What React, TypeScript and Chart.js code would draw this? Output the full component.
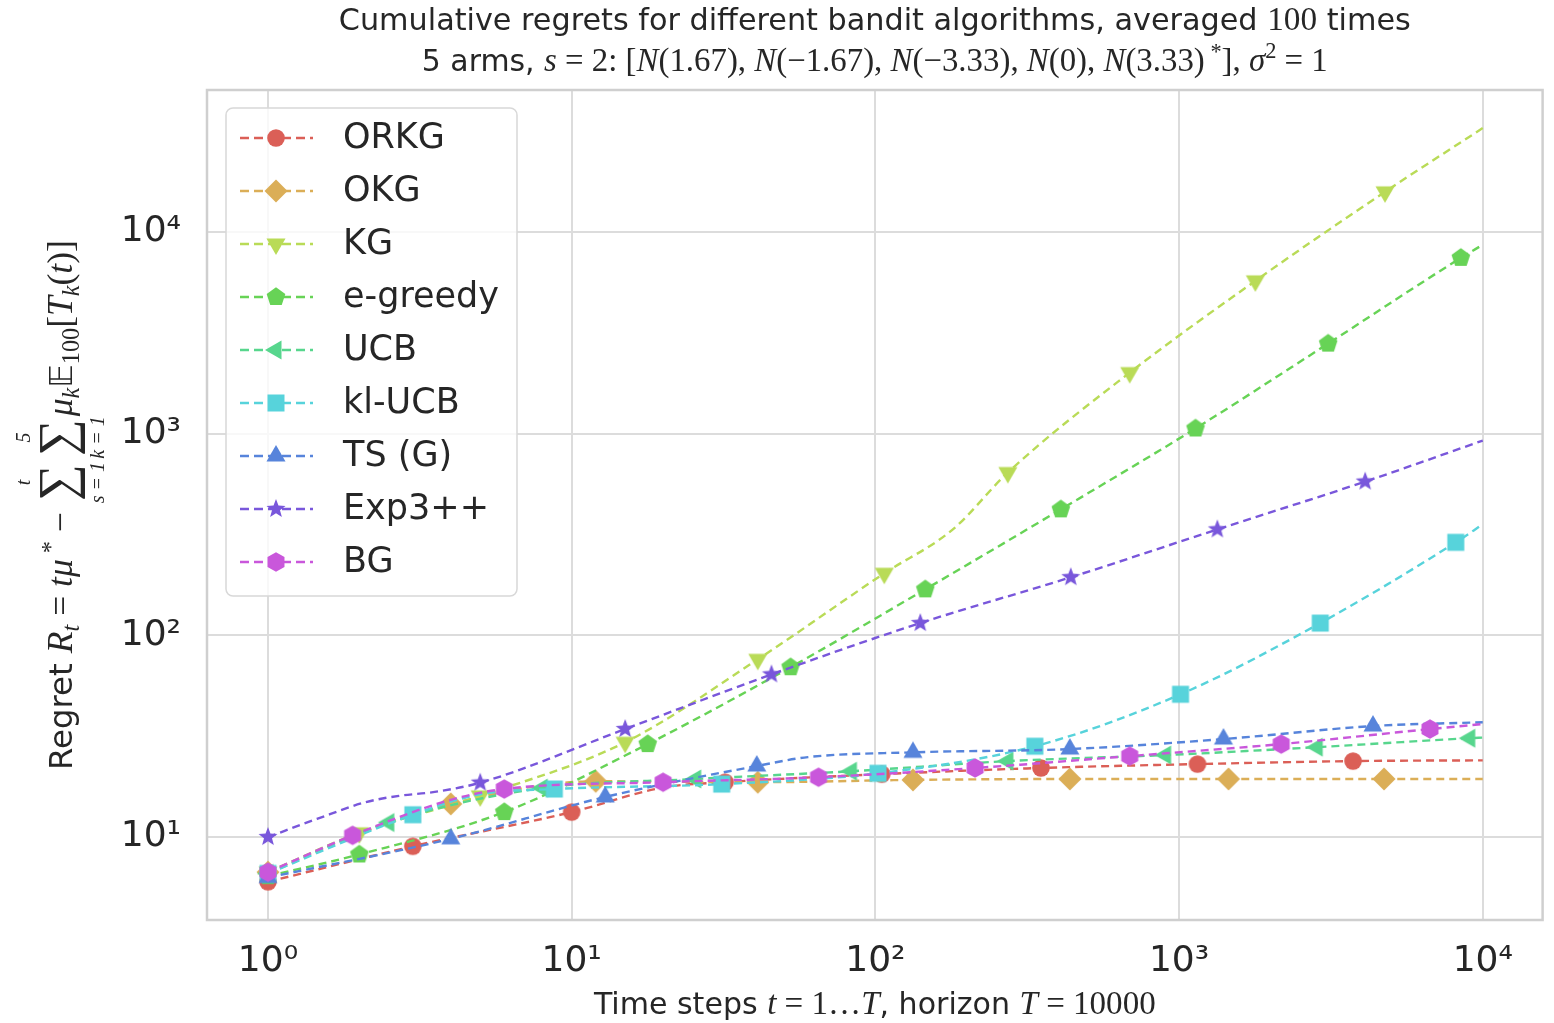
import React, { useEffect, useRef } from 'react';
import { Chart, registerables } from 'chart.js';
Chart.register(...registerables);

const NAMES = ['ORKG', 'OKG', 'KG', 'e-greedy', 'UCB', 'kl-UCB', 'TS (G)', 'Exp3++', 'BG'];
const COLORS = ['#db5f57', '#dbae57', '#b9db57', '#67d356', '#57d68d', '#57d3db', '#5784db', '#7957db', '#c957db'];
const MARKERS = ['circle', 'diamond', 'triDown', 'pentagon', 'triLeft', 'square', 'triUp', 'star', 'hexagon'];

// time steps (T), regret values (V), marker shown (M)
const ORKG_T = [1, 3, 10, 20, 32, 105, 351, 1150, 3740, 10000];
const ORKG_V = [6.0, 9.0, 13.3, 17.6, 18.7, 20.5, 22.0, 23.0, 23.8, 24.0];
const ORKG_M = [1, 1, 1, 0, 1, 1, 1, 1, 1, 0];

const OKG_T = [1, 2, 4, 12, 41, 133, 437, 1455, 4730, 10000];
const OKG_V = [6.7, 10.4, 14.6, 18.9, 18.7, 19.2, 19.4, 19.4, 19.4, 19.4];
const OKG_M = [1, 0, 1, 1, 1, 1, 1, 1, 1, 0];

const KG_T = [1, 2, 5, 15, 41, 107, 180, 273, 688, 1783, 4766, 10000];
const KG_V = [6.7, 10.5, 16, 29.5, 76, 203, 335, 641, 2005, 5714, 15780, 32700];
const KG_M = [1, 1, 1, 1, 1, 1, 0, 1, 1, 1, 1, 0];

const EGREEDY_T = [1, 2, 6, 17.8, 52.6, 146, 408, 1133, 3097, 8470, 10000];
const EGREEDY_V = [6.4, 8.2, 13.3, 28.9, 69.5, 169, 421, 1060, 2793, 7430, 8630];
const EGREEDY_M = [1, 1, 1, 1, 1, 1, 1, 1, 1, 1, 0];

const UCB_T = [1, 2.5, 8, 25.6, 83.4, 273, 903, 2850, 9060, 10000];
const UCB_V = [6.6, 11.8, 17.5, 19.4, 21.2, 23.8, 25.5, 27.9, 30.9, 31.1];
const UCB_M = [1, 1, 1, 1, 1, 1, 1, 1, 1, 0];

const KLUCB_T = [1, 3, 5, 8.77, 31.2, 102, 335, 1011, 2917, 8150, 10000];
const KLUCB_V = [6.6, 12.9, 16.3, 17.3, 18.3, 20.7, 28.2, 51, 115, 289, 355];
const KLUCB_M = [1, 1, 0, 1, 1, 1, 1, 1, 1, 1, 0];

const TS_T = [1, 4, 12.9, 40.7, 60, 133, 437, 1400, 4350, 10000];
const TS_V = [6.3, 9.8, 15.8, 22.5, 24.9, 26.3, 27.3, 30.6, 35.5, 37.1];
const TS_M = [1, 1, 1, 1, 0, 1, 1, 1, 1, 0];

const EXP3_T = [1, 1.45, 2.1, 2.7, 3.5, 5, 15, 45.5, 140.6, 440, 1337, 4100, 10000];
const EXP3_V = [10, 12.3, 14.9, 16, 16.7, 18.6, 34.3, 64, 115, 194, 335, 578, 923];
const EXP3_M = [1, 0, 0, 0, 0, 1, 1, 1, 1, 1, 1, 1, 0];

const BG_T = [1, 1.9, 4, 6, 20, 65, 213, 688, 2170, 6700, 10000];
const BG_V = [6.7, 10.2, 15.3, 17.3, 18.7, 19.8, 22, 25.2, 28.9, 34.3, 36.3];
const BG_M = [1, 1, 0, 1, 1, 1, 1, 1, 1, 1, 0];

const X_TICKS = [1, 10, 100, 1000, 10000];
const X_TICK_LABELS = ['10⁰', '10¹', '10²', '10³', '10⁴'];
const Y_TICKS = [10, 100, 1000, 10000];
const Y_TICK_LABELS = ['10¹', '10²', '10³', '10⁴'];

const SERIES: number[][][] = [
  [ORKG_T, ORKG_V, ORKG_M],
  [OKG_T, OKG_V, OKG_M],
  [KG_T, KG_V, KG_M],
  [EGREEDY_T, EGREEDY_V, EGREEDY_M],
  [UCB_T, UCB_V, UCB_M],
  [KLUCB_T, KLUCB_V, KLUCB_M],
  [TS_T, TS_V, TS_M],
  [EXP3_T, EXP3_V, EXP3_M],
  [BG_T, BG_V, BG_M],
];

function makeMarker(shape: string, color: string): HTMLCanvasElement {
  const s = 28;
  const c = document.createElement('canvas');
  c.width = s;
  c.height = s;
  const g = c.getContext('2d')!;
  g.fillStyle = color;
  g.translate(s / 2, s / 2);
  g.beginPath();
  const poly = (n: number, r: number, rot: number) => {
    for (let i = 0; i < n; i++) {
      const a = rot + (i * 2 * Math.PI) / n;
      if (i === 0) g.moveTo(r * Math.cos(a), r * Math.sin(a));
      else g.lineTo(r * Math.cos(a), r * Math.sin(a));
    }
    g.closePath();
  };
  switch (shape) {
    case 'circle': g.arc(0, 0, 8.8, 0, Math.PI * 2); break;
    case 'diamond': poly(4, 11.5, -Math.PI / 2); break;
    case 'triDown': poly(3, 11, Math.PI / 2); break;
    case 'triUp': poly(3, 11, -Math.PI / 2); break;
    case 'triLeft': poly(3, 11, Math.PI); break;
    case 'square': g.rect(-8.5, -8.5, 17, 17); break;
    case 'pentagon': poly(5, 9.8, -Math.PI / 2); break;
    case 'hexagon': poly(6, 9.8, -Math.PI / 2); break;
    case 'star': {
      for (let i = 0; i < 10; i++) {
        const r = i % 2 === 0 ? 10 : 4.2;
        const a = -Math.PI / 2 + (i * Math.PI) / 5;
        if (i === 0) g.moveTo(r * Math.cos(a), r * Math.sin(a));
        else g.lineTo(r * Math.cos(a), r * Math.sin(a));
      }
      g.closePath();
      break;
    }
  }
  g.fill();
  return c;
}

type Seg = { t: string; fam: string; k?: number; dy?: number; up?: string; lo?: string };
const FAMS: any = { s: '"DejaVu Sans"', r: '"Liberation Serif"', i: '"Liberation Serif"', d: '"DejaVu Sans"' };

function fontOf(g: Seg, size: number) {
  const k = g.k ?? 1;
  return `${g.fam === 'i' ? 'italic ' : ''}${(size * k).toFixed(2)}px ${FAMS[g.fam]}`;
}
function limFont(size: number) {
  return `italic ${(size * 0.62).toFixed(2)}px "Liberation Serif"`;
}
function segW(ctx: CanvasRenderingContext2D, g: Seg, size: number) {
  ctx.font = fontOf(g, size);
  let w = ctx.measureText(g.t).width;
  if (g.up || g.lo) {
    ctx.font = limFont(size);
    w = Math.max(w, ctx.measureText(g.up || '').width, ctx.measureText(g.lo || '').width);
  }
  return w;
}
function lineW(ctx: CanvasRenderingContext2D, segs: Seg[], size: number) {
  return segs.reduce((s, g) => s + segW(ctx, g, size), 0);
}
function drawLine(ctx: CanvasRenderingContext2D, segs: Seg[], size: number, cx: number, by: number) {
  let x = cx - lineW(ctx, segs, size) / 2;
  ctx.textAlign = 'left';
  ctx.textBaseline = 'alphabetic';
  for (const g of segs) {
    const w = segW(ctx, g, size);
    ctx.font = fontOf(g, size);
    const tw = ctx.measureText(g.t).width;
    ctx.fillText(g.t, x + (w - tw) / 2, by + (g.dy || 0) * size);
    if (g.up || g.lo) {
      ctx.font = limFont(size);
      const uw = ctx.measureText(g.up || '').width;
      const lw = ctx.measureText(g.lo || '').width;
      ctx.fillText(g.up || '', x + (w - uw) / 2, by - 1.3 * size);
      ctx.fillText(g.lo || '', x + (w - lw) / 2, by + 0.98 * size);
    }
    x += w;
  }
}
function fitSize(ctx: CanvasRenderingContext2D, segs: Seg[], target: number) {
  const base = 30;
  return (base * target) / lineW(ctx, segs, base);
}

const TITLE1: Seg[] = [
  { t: 'Cumulative regrets for different bandit algorithms, averaged ', fam: 's' },
  { t: '100', fam: 'r', k: 1.1 },
  { t: ' times', fam: 's' },
];
const TITLE2: Seg[] = [
  { t: '5 arms, ', fam: 's' },
  { t: 's', fam: 'i', k: 1.1 },
  { t: ' = 2: [', fam: 'r', k: 1.1 },
  { t: 'N', fam: 'i', k: 1.1 },
  { t: '(1.67), ', fam: 'r', k: 1.1 },
  { t: 'N', fam: 'i', k: 1.1 },
  { t: '(−1.67), ', fam: 'r', k: 1.1 },
  { t: 'N', fam: 'i', k: 1.1 },
  { t: '(−3.33), ', fam: 'r', k: 1.1 },
  { t: 'N', fam: 'i', k: 1.1 },
  { t: '(0), ', fam: 'r', k: 1.1 },
  { t: 'N', fam: 'i', k: 1.1 },
  { t: '(3.33)', fam: 'r', k: 1.1 },
  { t: ' *', fam: 'r', k: 0.75, dy: -0.4 },
  { t: '], ', fam: 'r', k: 1.1 },
  { t: 'σ', fam: 'i', k: 1.1 },
  { t: '2', fam: 'r', k: 0.75, dy: -0.45 },
  { t: ' = 1', fam: 'r', k: 1.1 },
];
const XLABEL: Seg[] = [
  { t: 'Time steps ', fam: 's' },
  { t: 't', fam: 'i', k: 1.1 },
  { t: ' = 1…', fam: 'r', k: 1.1 },
  { t: 'T', fam: 'i', k: 1.1 },
  { t: ', horizon ', fam: 's' },
  { t: 'T', fam: 'i', k: 1.1 },
  { t: ' = 10000', fam: 'r', k: 1.1 },
];
const YLABEL: Seg[] = [
  { t: 'Regret ', fam: 's' },
  { t: 'R', fam: 'i', k: 1.1 },
  { t: 't', fam: 'i', k: 0.75, dy: 0.22 },
  { t: ' = ', fam: 'r', k: 1.1 },
  { t: 'tμ', fam: 'i', k: 1.1 },
  { t: ' *', fam: 'r', k: 0.75, dy: -0.4 },
  { t: ' − ', fam: 'r', k: 1.1 },
  { t: '∑', fam: 'r', k: 1.6, dy: 0.05, up: 't', lo: 's = 1' },
  { t: ' ', fam: 'r', k: 0.4 },
  { t: '∑', fam: 'r', k: 1.6, dy: 0.05, up: '5', lo: 'k = 1' },
  { t: 'μ', fam: 'i', k: 1.1 },
  { t: 'k', fam: 'i', k: 0.75, dy: 0.22 },
  { t: '𝔼', fam: 'd', k: 1.0 },
  { t: '100', fam: 'r', k: 0.75, dy: 0.22 },
  { t: '[', fam: 'r', k: 1.1 },
  { t: 'T', fam: 'i', k: 1.1 },
  { t: 'k', fam: 'i', k: 0.75, dy: 0.22 },
  { t: '(', fam: 'r', k: 1.1 },
  { t: 't', fam: 'i', k: 1.1 },
  { t: ')]', fam: 'r', k: 1.1 },
];

export default function App() {
  const ref = useRef<HTMLCanvasElement>(null);
  useEffect(() => {
    document.body.style.margin = '0';
    const canvas = ref.current!;
    const markers = MARKERS.map((m, i) => makeMarker(m, COLORS[i]));

    const decor = {
      id: 'decor',
      beforeDatasetsDraw(chart: any) {
        const ctx = chart.ctx;
        const a = chart.chartArea;
        ctx.save();
        ctx.strokeStyle = '#cfcfcf';
        ctx.lineWidth = 2.5;
        ctx.strokeRect(a.left, a.top, a.right - a.left, a.bottom - a.top);
        ctx.restore();
      },
      afterDraw(chart: any) {
        const ctx: CanvasRenderingContext2D = chart.ctx;
        const a = chart.chartArea;
        const cx = (a.left + a.right) / 2;
        ctx.save();
        // legend
        const lx = 226, ly = 108, lw = 291, lh = 488, r = 7;
        ctx.beginPath();
        ctx.moveTo(lx + r, ly);
        ctx.arcTo(lx + lw, ly, lx + lw, ly + lh, r);
        ctx.arcTo(lx + lw, ly + lh, lx, ly + lh, r);
        ctx.arcTo(lx, ly + lh, lx, ly, r);
        ctx.arcTo(lx, ly, lx + lw, ly, r);
        ctx.closePath();
        ctx.fillStyle = 'rgba(255,255,255,0.8)';
        ctx.fill();
        ctx.strokeStyle = '#d8d8d8';
        ctx.lineWidth = 1.5;
        ctx.stroke();
        NAMES.forEach((name, i) => {
          const y = 138 + 53 * i;
          ctx.strokeStyle = COLORS[i];
          ctx.lineWidth = 2.4;
          ctx.setLineDash([9, 5]);
          ctx.beginPath();
          ctx.moveTo(240, y);
          ctx.lineTo(313, y);
          ctx.stroke();
          ctx.setLineDash([]);
          const m = markers[i];
          ctx.drawImage(m, 276 - m.width / 2, y - m.height / 2);
          ctx.fillStyle = '#262626';
          ctx.font = '35px "DejaVu Sans"';
          ctx.textAlign = 'left';
          ctx.textBaseline = 'middle';
          ctx.fillText(name, 343, y + 1);
        });
        // titles
        ctx.fillStyle = '#262626';
        drawLine(ctx, TITLE1, fitSize(ctx, TITLE1, 1072), cx, 30);
        drawLine(ctx, TITLE2, fitSize(ctx, TITLE2, 906), cx, 71);
        drawLine(ctx, XLABEL, fitSize(ctx, XLABEL, 562), cx, 1014);
        ctx.translate(72, 505);
        ctx.rotate(-Math.PI / 2);
        drawLine(ctx, YLABEL, fitSize(ctx, YLABEL, 530), 0, 0);
        ctx.restore();
      },
    };

    const datasets = SERIES.map(([T, V, M], i) => ({
      label: NAMES[i],
      data: T.map((t, j) => ({ x: t, y: V[j] })),
      borderColor: COLORS[i],
      backgroundColor: COLORS[i],
      borderWidth: 2.4,
      borderDash: [8, 5],
      pointStyle: markers[i],
      pointRadius: M.map((m) => (m ? 9 : 0)),
      pointHoverRadius: M.map((m) => (m ? 9 : 0)),
      cubicInterpolationMode: 'monotone',
      order: 8 - i,
      clip: false,
    }));

    const chart = new Chart(canvas, {
      type: 'line',
      data: { datasets } as any,
      options: {
        animation: false,
        responsive: false,
        maintainAspectRatio: false,
        devicePixelRatio: 1,
        events: [],
        layout: { padding: { top: 90, right: 4.6, left: 0, bottom: 0 } },
        plugins: { legend: { display: false }, title: { display: false }, tooltip: { enabled: false } },
        scales: {
          x: {
            type: 'logarithmic',
            bounds: 'data',
            min: 0.63,
            max: 15740,
            afterBuildTicks: (s: any) => { s.ticks = X_TICKS.map((v) => ({ value: v })); },
            afterFit: (s: any) => { s.height = 103; s.paddingLeft = 0; s.paddingRight = 0; },
            ticks: {
              callback: (_v: any, idx: number) => X_TICK_LABELS[idx],
              font: { family: 'DejaVu Sans', size: 36 },
              color: '#262626',
              padding: 20,
              autoSkip: false,
              maxRotation: 0,
            },
            grid: { color: '#dcdcdc', lineWidth: 2, drawTicks: false },
            border: { display: false },
          },
          y: {
            type: 'logarithmic',
            bounds: 'data',
            min: 3.88,
            max: 50470,
            afterBuildTicks: (s: any) => { s.ticks = Y_TICKS.map((v) => ({ value: v })); },
            afterFit: (s: any) => { s.width = 207; s.paddingTop = 0; s.paddingBottom = 0; },
            ticks: {
              callback: (_v: any, idx: number) => Y_TICK_LABELS[idx],
              font: { family: 'DejaVu Sans', size: 36 },
              color: '#262626',
              padding: 26,
              autoSkip: false,
            },
            grid: { color: '#dcdcdc', lineWidth: 2, drawTicks: false },
            border: { display: false },
          },
        },
      } as any,
      plugins: [decor],
    });
    return () => chart.destroy();
  }, []);
  return (
    <div style={{ width: 1554, height: 1023, position: 'relative', background: '#fff' }}>
      <canvas ref={ref} width={1554} height={1023} style={{ display: 'block' }} />
    </div>
  );
}
